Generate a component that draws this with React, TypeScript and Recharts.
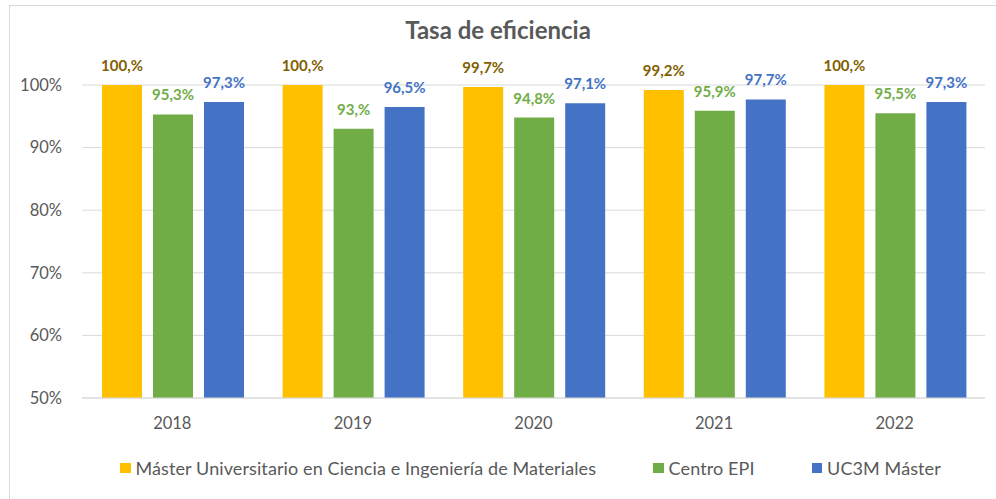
import React from 'react';
import { BarChart, Bar, XAxis, YAxis, CartesianGrid, Legend, LabelList } from 'recharts';

const categories = ['2018', '2019', '2020', '2021', '2022'];
const masterValues = [100, 100, 99.7, 99.2, 100];
const centroValues = [95.3, 93, 94.8, 95.9, 95.5];
const uc3mValues = [97.3, 96.5, 97.1, 97.7, 97.3];
const yTicks = [50, 60, 70, 80, 90, 100];
const seriesNames = [
  'Máster Universitario en Ciencia e Ingeniería de Materiales',
  'Centro EPI',
  'UC3M Máster',
];
const title = 'Tasa de eficiencia';

const data = categories.map((c, i) => ({
  year: c,
  master: masterValues[i],
  centro: centroValues[i],
  uc3m: uc3mValues[i],
}));

const FONT = 'Lato, "Open Sans", sans-serif';
const GREY = '#595959';

const fmtLabel = (v: any) => {
  const n = Number(v);
  if (Number.isInteger(n)) return `${n},%`;
  return `${String(n).replace('.', ',')}%`;
};

const LegendContent = (props: any) => {
  const payload = [...(props.payload || [])].sort(
    (a: any, b: any) => seriesNames.indexOf(a.value) - seriesNames.indexOf(b.value)
  );
  return (
    <div
      style={{
        display: 'flex',
        alignItems: 'center',
        height: 20,
        marginTop: 9,
        paddingLeft: 120,
        fontFamily: FONT,
        fontSize: 18,
        color: GREY,
      }}
    >
      {payload.map((p: any, i: number) => (
        <div key={i} style={{ display: 'flex', alignItems: 'center', marginRight: 57 }}>
          <span style={{ display: 'inline-block', width: 10.5, height: 10.5, background: p.color, marginRight: 5 }} />
          <span style={{ whiteSpace: 'nowrap', letterSpacing: 0.1 }}>{p.value}</span>
        </div>
      ))}
    </div>
  );
};

export default function App() {
  return (
    <div style={{ position: 'absolute', left: 0, top: 0, width: 996, height: 499, overflow: 'hidden', background: '#fff' }}>
      <div
        style={{
          position: 'absolute',
          left: 9,
          top: 5,
          width: 1020,
          height: 520,
          border: '1px solid #D9D9D9',
          boxSizing: 'border-box',
        }}
      />
      <div
        style={{
          position: 'absolute',
          left: 0,
          width: 996,
          top: 16,
          textAlign: 'center',
          fontFamily: FONT,
          fontWeight: 700,
          fontSize: 24,
          lineHeight: '28px',
          color: GREY,
        }}
      >
        {title}
      </div>
      <div style={{ position: 'absolute', left: 0, top: 0 }}>
        <BarChart
          width={996}
          height={499}
          data={data}
          margin={{ top: 85, right: 11, bottom: 0, left: 0 }}
          barCategoryGap={20}
          barGap={11}
        >
          <CartesianGrid vertical={false} stroke="#D9D9D9" strokeWidth={1} />
          <XAxis
            dataKey="year"
            height={51}
            tickLine={false}
            tickSize={0}
            tickMargin={19}
            axisLine={{ stroke: '#D9D9D9' }}
            tick={{ fill: GREY, fontSize: 16.5, fontFamily: FONT }}
          />
          <YAxis
            width={82}
            domain={[50, 100]}
            ticks={yTicks}
            interval={0}
            tickFormatter={(v: number) => `${v}%`}
            axisLine={false}
            tickLine={false}
            tickSize={0}
            tickMargin={20}
            tick={{ fill: GREY, fontSize: 16.5, fontFamily: FONT }}
          />
          <Legend verticalAlign="bottom" height={50} content={<LegendContent />} />
          <Bar dataKey="master" name={seriesNames[0]} fill="#FFC000" isAnimationActive={false}>
            <LabelList
              dataKey="master"
              position="top"
              offset={14}
              formatter={fmtLabel}
              style={{ fill: '#7F6000', fontWeight: 700, fontSize: 15, fontFamily: FONT }}
            />
          </Bar>
          <Bar dataKey="centro" name={seriesNames[1]} fill="#70AD47" isAnimationActive={false}>
            <LabelList
              dataKey="centro"
              position="top"
              offset={14}
              formatter={fmtLabel}
              style={{ fill: '#70AD47', fontWeight: 700, fontSize: 15, fontFamily: FONT }}
            />
          </Bar>
          <Bar dataKey="uc3m" name={seriesNames[2]} fill="#4472C4" isAnimationActive={false}>
            <LabelList
              dataKey="uc3m"
              position="top"
              offset={14}
              formatter={fmtLabel}
              style={{ fill: '#4472C4', fontWeight: 700, fontSize: 15, fontFamily: FONT }}
            />
          </Bar>
        </BarChart>
      </div>
    </div>
  );
}
